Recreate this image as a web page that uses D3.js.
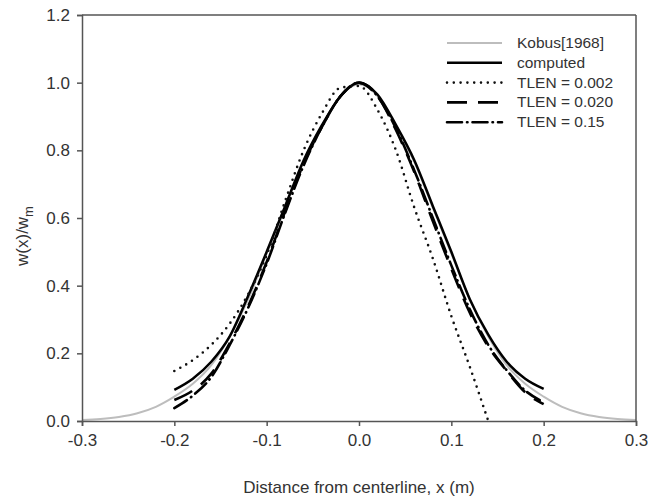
<!DOCTYPE html>
<html>
<head>
<meta charset="utf-8">
<script src="https://cdn.jsdelivr.net/npm/d3@7"></script>
<style>
  body { margin: 0; background: #fff; }
  text { font-family: "Liberation Sans", Arial, sans-serif; fill: #333; }
</style>
</head>
<body>
<svg id="chart" width="648" height="497"></svg>
<script>
// values
var xTicks = [-0.3, -0.2, -0.1, 0, 0.1, 0.2, 0.3];
var yTicks = [0, 0.2, 0.4, 0.6, 0.8, 1.0, 1.2];

var kobusX = [-0.30,-0.28,-0.26,-0.24,-0.22,-0.20,-0.18,-0.16,-0.14,-0.12,-0.10,-0.08,-0.06,-0.04,-0.02,0,
              0.02,0.04,0.06,0.08,0.10,0.12,0.14,0.16,0.18,0.20,0.22,0.24,0.26,0.28,0.30];
var kobusY = [0.003,0.006,0.012,0.023,0.042,0.072,0.11,0.165,0.25,0.36,0.495,0.63,0.765,0.87,0.96,0.995,
              0.96,0.87,0.765,0.63,0.495,0.36,0.25,0.165,0.11,0.072,0.042,0.023,0.012,0.006,0.003];

var runX = [-0.20,-0.18,-0.16,-0.14,-0.12,-0.10,-0.08,-0.06,-0.04,-0.02,0,
            0.02,0.04,0.06,0.08,0.10,0.12,0.14,0.16,0.18,0.20];
var computedY = [0.092,0.125,0.175,0.25,0.37,0.50,0.635,0.77,0.875,0.96,1.0,
                 0.965,0.875,0.77,0.635,0.50,0.36,0.255,0.175,0.125,0.095];
var tlen020Y = [0.062,0.09,0.14,0.23,0.34,0.47,0.62,0.76,0.87,0.96,1.0,
                0.96,0.86,0.735,0.59,0.45,0.32,0.22,0.148,0.085,0.05];
var tlen15Y = [0.038,0.075,0.13,0.225,0.335,0.465,0.615,0.755,0.87,0.96,1.0,
               0.96,0.865,0.74,0.60,0.46,0.33,0.225,0.15,0.09,0.056];

var tlen002X = [-0.20,-0.18,-0.16,-0.14,-0.12,-0.10,-0.08,-0.06,-0.04,-0.02,0,
                0.02,0.04,0.06,0.08,0.10,0.12,0.14];
var tlen002Y = [0.148,0.18,0.225,0.288,0.375,0.49,0.65,0.80,0.91,0.985,0.99,
                0.92,0.80,0.63,0.48,0.31,0.16,0.0];

var seriesNames = ["Kobus[1968]", "computed", "TLEN = 0.002", "TLEN = 0.020", "TLEN = 0.15"];

var svg = d3.select("svg#chart");

var x = d3.scaleLinear().domain([-0.3, 0.3]).range([82, 636]);
var y = d3.scaleLinear().domain([0, 1.2]).range([421, 15]);

// styles per series
var styles = [
	{ stroke: "#bdbdbd", width: 2, dash: null, cap: "butt" },
	{ stroke: "#000", width: 2.5, dash: null, cap: "butt" },
	{ stroke: "#111", width: 2.6, dash: "0,6.8", cap: "round" },
	{ stroke: "#000", width: 2.6, dash: "20,11", cap: "butt" },
	{ stroke: "#000", width: 2.6, dash: "15,5,0.5,5", cap: "round" }
];

var series = [
	d3.zip(kobusX, kobusY),
	d3.zip(runX, computedY),
	d3.zip(tlen002X, tlen002Y),
	d3.zip(runX, tlen020Y),
	d3.zip(runX, tlen15Y)
];

var line = d3.line()
	.x(d => x(d[0]))
	.y(d => y(d[1]))
	.curve(d3.curveMonotoneX);

for (let i = 0; i < series.length; i++) {
	svg.append("path")
		.datum(series[i])
		.attr("d", line)
		.attr("fill", "none")
		.attr("stroke", styles[i].stroke)
		.attr("stroke-width", styles[i].width)
		.attr("stroke-linecap", styles[i].cap)
		.attr("stroke-dasharray", styles[i].dash);
}

// axes
svg.append("g")
	.attr("transform", "translate(0,421)")
	.call(d3.axisBottom(x).tickValues(xTicks).tickFormat(d => d.toFixed(1)).tickSizeOuter(0).tickSize(5).tickPadding(8));
svg.append("g")
	.attr("transform", "translate(82,0)")
	.call(d3.axisLeft(y).tickValues(yTicks).tickFormat(d => d.toFixed(1)).tickSizeOuter(0).tickSize(5).tickPadding(7));

svg.selectAll(".domain, .tick line").attr("stroke", "#555").attr("stroke-width", 1.5);
svg.selectAll(".tick text").style("font-size", "17px").attr("fill", "#333");

// top and right frame
svg.append("line").attr("x1", 82).attr("x2", 636).attr("y1", 15).attr("y2", 15)
	.attr("stroke", "#555").attr("stroke-width", 1.5);
svg.append("line").attr("x1", 636).attr("x2", 636).attr("y1", 15).attr("y2", 421)
	.attr("stroke", "#555").attr("stroke-width", 1.5);

// axis titles
svg.append("text")
	.attr("x", 359).attr("y", 493)
	.attr("text-anchor", "middle")
	.style("font-size", "17px")
	.text("Distance from centerline, x (m)");

var yl = svg.append("text")
	.attr("transform", "translate(28,236) rotate(-90)")
	.attr("text-anchor", "middle")
	.style("font-size", "17px");
yl.append("tspan").text("w(x)/w");
yl.append("tspan").attr("dy", 5).style("font-size", "13px").text("m");

// legend
for (let i = 0; i < seriesNames.length; i++) {
	var ly = 43 + i * 19.8;
	svg.append("line")
		.attr("x1", 447).attr("x2", 502).attr("y1", ly).attr("y2", ly)
		.attr("stroke", styles[i].stroke)
		.attr("stroke-width", styles[i].width)
		.attr("stroke-linecap", styles[i].cap)
		.attr("stroke-dasharray", styles[i].dash);
	svg.append("text")
		.attr("x", 517).attr("y", ly + 5)
		.style("font-size", "15.5px")
		.text(seriesNames[i]);
}
</script>
</body>
</html>
